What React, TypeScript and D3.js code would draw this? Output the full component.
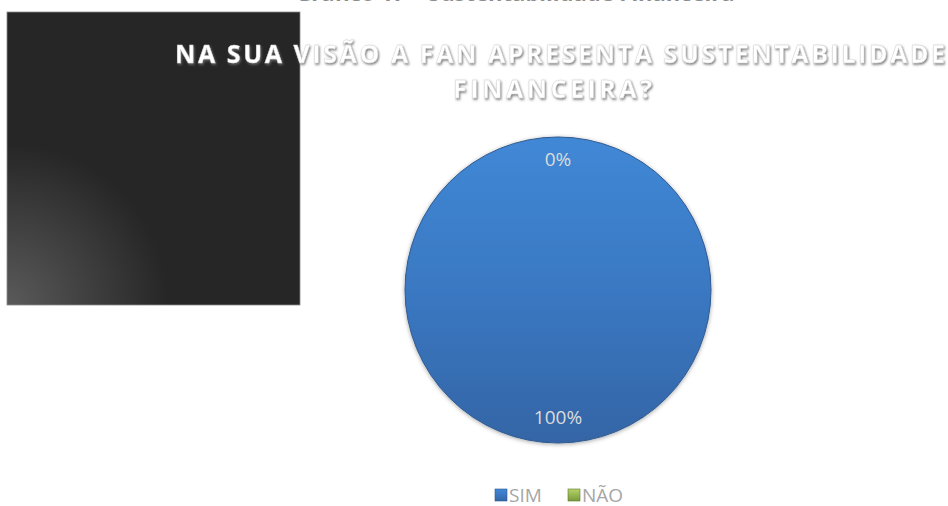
import React, { useEffect, useRef } from 'react';
import * as d3 from 'd3';

const categories = ['SIM', 'NÃO'];
const values = [100, 0];
const colors = ['#4f81bd', '#9bbb59'];
const titleLines = ['NA SUA VISÃO A FAN APRESENTA SUSTENTABILIDADE', 'FINANCEIRA?'];
const captionText = 'Gráfico 17 – Sustentabilidade Financeira';

interface Slice {
  category: string;
  value: number;
}

const App: React.FC = () => {
  const svgRef = useRef<SVGSVGElement | null>(null);

  useEffect(() => {
    if (!svgRef.current) return;
    const width = 948;
    const height = 506;
    const cx = 558;
    const cy = 290;
    const radius = 153;

    const svg = d3.select(svgRef.current);
    svg.selectAll('*').remove();
    svg.attr('width', width).attr('height', height);

    const defs = svg.append('defs');

    // dark panel glow
    const glow = defs.append('radialGradient').attr('id', 'glow')
      .attr('cx', 0).attr('cy', 1).attr('r', 0.55);
    glow.append('stop').attr('offset', '0%').attr('stop-color', '#5a5a5a');
    glow.append('stop').attr('offset', '100%').attr('stop-color', '#262626');

    const pieGrad = defs.append('linearGradient').attr('id', 'pieGrad')
      .attr('x1', 0).attr('y1', 0).attr('x2', 0).attr('y2', 1);
    pieGrad.append('stop').attr('offset', '0%').attr('stop-color', '#4088d6');
    pieGrad.append('stop').attr('offset', '50%').attr('stop-color', '#3a78c2');
    pieGrad.append('stop').attr('offset', '100%').attr('stop-color', '#3465a6');

    const greenGrad = defs.append('linearGradient').attr('id', 'greenGrad')
      .attr('x1', 0).attr('y1', 0).attr('x2', 0).attr('y2', 1);
    greenGrad.append('stop').attr('offset', '0%').attr('stop-color', '#b5d36a');
    greenGrad.append('stop').attr('offset', '100%').attr('stop-color', '#7a9a3a');

    const shadow = defs.append('filter').attr('id', 'titleShadow')
      .attr('x', '-5%').attr('y', '-30%').attr('width', '110%').attr('height', '160%');
    shadow.append('feDropShadow').attr('dx', 1).attr('dy', 1.5)
      .attr('stdDeviation', 1).attr('flood-color', '#6e6e6e').attr('flood-opacity', 0.9);

    const pieShadow = defs.append('filter').attr('id', 'pieShadow')
      .attr('x', '-10%').attr('y', '-10%').attr('width', '120%').attr('height', '120%');
    pieShadow.append('feDropShadow').attr('dx', 0).attr('dy', 1)
      .attr('stdDeviation', 2).attr('flood-color', '#000').attr('flood-opacity', 0.35);

    // caption, mostly above the visible area as in the reference
    svg.append('text')
      .attr('x', 515).attr('y', 0.5)
      .attr('text-anchor', 'middle')
      .style('font-family', '"Open Sans", sans-serif')
      .style('font-weight', 'bold')
      .style('font-size', '22px')
      .attr('fill', '#8c8c8c')
      .text(captionText);

    // dark panel
    svg.append('rect')
      .attr('x', 7).attr('y', 12).attr('width', 293).attr('height', 293)
      .attr('fill', 'url(#glow)')
      .attr('stroke', '#8a8a8a').attr('stroke-width', 0.8);

    // title
    const title = svg.append('text')
      .style('font-family', '"Open Sans", sans-serif')
      .style('font-weight', 'bold')
      .style('font-size', '25px')
      .attr('fill', '#ffffff')
      .attr('stroke', '#cfcfcf')
      .attr('stroke-width', 0.4)
      .attr('filter', 'url(#titleShadow)');
    title.append('tspan').attr('x', 175).attr('y', 63)
      .attr('textLength', 770).attr('lengthAdjust', 'spacing')
      .text(titleLines[0]);
    title.append('tspan').attr('x', 453).attr('y', 98)
      .attr('textLength', 199).attr('lengthAdjust', 'spacing')
      .text(titleLines[1]);

    // pie
    const data: Slice[] = categories.map((c, i) => ({ category: c, value: values[i] }));
    const pie = d3.pie<Slice>().value((d) => d.value).sort(null);
    const arcs = pie(data);
    const arc = d3.arc<d3.PieArcDatum<Slice>>().innerRadius(0).outerRadius(radius);
    const labelArc = d3.arc<d3.PieArcDatum<Slice>>().innerRadius(129).outerRadius(129);

    const g = svg.append('g').attr('transform', `translate(${cx},${cy})`);
    g.selectAll('path')
      .data(arcs)
      .enter()
      .append('path')
      .attr('d', (d) => arc(d) as string)
      .attr('fill', (d, i) => (i === 0 ? 'url(#pieGrad)' : colors[i]))
      .attr('stroke', '#2f5a90')
      .attr('stroke-width', 1)
      .attr('filter', 'url(#pieShadow)');

    const total = d3.sum(values);
    g.selectAll('text.lbl')
      .data(arcs)
      .enter()
      .append('text')
      .attr('class', 'lbl')
      .attr('transform', (d) => {
        const [x, y] = labelArc.centroid(d);
        return `translate(${x},${y})`;
      })
      .attr('text-anchor', 'middle')
      .attr('dominant-baseline', 'middle')
      .style('font-family', '"Open Sans", sans-serif')
      .style('font-size', '19px')
      .attr('fill', '#dcdcdc')
      .text((d) => `${Math.round((d.data.value / total) * 100)}%`);

    // legend
    const legendX = [495, 568];
    const legend = svg.append('g');
    categories.forEach((c, i) => {
      const lg = legend.append('g').attr('transform', `translate(${legendX[i]},489)`);
      lg.append('rect').attr('width', 12).attr('height', 12)
        .attr('fill', i === 0 ? 'url(#pieGrad)' : 'url(#greenGrad)')
        .attr('stroke', i === 0 ? '#2f5a90' : '#5f7a2a').attr('stroke-width', 0.6);
      lg.append('text').attr('x', 14).attr('y', 12.5)
        .style('font-family', '"Open Sans", sans-serif')
        .style('font-size', '19px')
        .attr('fill', '#a6a6a6')
        .text(c);
    });
  }, []);

  return (
    <svg ref={svgRef} style={{ position: 'absolute', left: 0, top: 0, background: '#fff' }}></svg>
  );
};

export default App;
